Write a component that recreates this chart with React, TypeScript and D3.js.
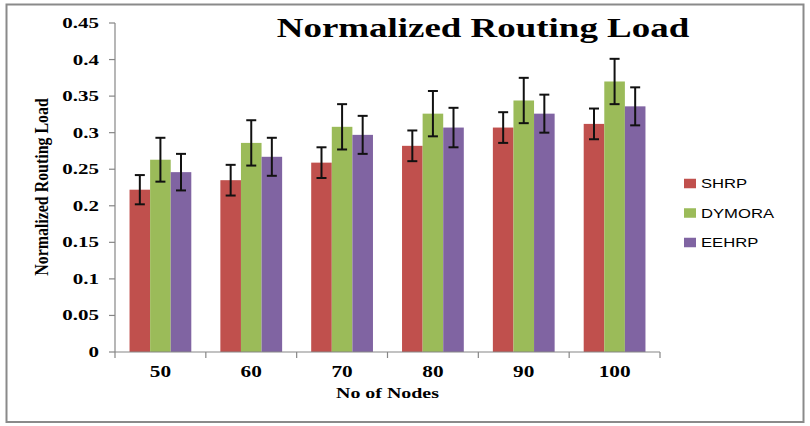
import React from "react";
import * as d3 from "d3";

const categories = ["50", "60", "70", "80", "90", "100"];
const seriesNames = ["SHRP", "DYMORA", "EEHRP"];
const shrp = [0.222, 0.235, 0.259, 0.282, 0.307, 0.312];
const dymora = [0.263, 0.286, 0.308, 0.326, 0.344, 0.37];
const eehrp = [0.246, 0.267, 0.297, 0.307, 0.326, 0.336];
const shrpErr = [0.02, 0.021, 0.021, 0.021, 0.021, 0.021];
const dymoraErr = [0.03, 0.031, 0.031, 0.031, 0.031, 0.031];
const eehrpErr = [0.025, 0.026, 0.026, 0.027, 0.026, 0.026];
const yTicks = [0, 0.05, 0.1, 0.15, 0.2, 0.25, 0.3, 0.35, 0.4, 0.45];
const colors = ["#C0504D", "#9BBB59", "#8064A2"];

const seriesValues = [shrp, dymora, eehrp];
const seriesErrors = [shrpErr, dymoraErr, eehrpErr];

const SERIF = "'Liberation Serif', 'Times New Roman', serif";
const SANS = "'Liberation Sans', Arial, sans-serif";

function SText(props: {
  x: number;
  y: number;
  sx: number;
  sy?: number;
  rotate?: number;
  anchor?: string;
  size: number;
  family: string;
  weight?: string | number;
  children: React.ReactNode;
}) {
  const { x, y, sx, sy = 1, rotate = 0, anchor = "start", size, family, weight = "normal" } = props;
  return (
    <text
      transform={`translate(${x},${y}) rotate(${rotate}) scale(${sx},${sy})`}
      textAnchor={anchor}
      fontSize={size}
      fontFamily={family}
      fontWeight={weight}
      fill="#000"
    >
      {props.children}
    </text>
  );
}

export default function App() {
  const W = 810;
  const H = 426;
  const left = 115;
  const right = 660;
  const top = 23;
  const bottom = 352;

  const x = d3.scaleBand<string>().domain(categories).range([left, right]).paddingInner(0.32).paddingOuter(0.16);
  const xs = d3.scaleBand<string>().domain(seriesNames).range([0, x.bandwidth()]);
  const y = d3.scaleLinear().domain([0, 0.45]).range([bottom, top]);
  const step = x.step();
  const axisColor = "#868686";
  const cap = 5;

  return (
    <svg width={W} height={H} style={{ position: "absolute", left: 0, top: 0, background: "#fff" }}>
      <rect x={0} y={0} width={W} height={H} fill="#fff" />
      <rect x={6.5} y={4.5} width={797} height={417.5} fill="none" stroke="#8a8a8a" strokeWidth={2} />

      {/* Title */}
      <SText x={483} y={37} sx={1.32} anchor="middle" size={28} family={SERIF} weight="bold">
        Normalized Routing Load
      </SText>

      {/* Bars */}
      {seriesNames.map((s, si) =>
        categories.map((c, ci) => {
          const v = seriesValues[si][ci];
          const bx = (x(c) as number) + (xs(s) as number);
          return (
            <rect key={`${s}-${c}`} x={bx} y={y(v)} width={xs.bandwidth()} height={y(0) - y(v)} fill={colors[si]} />
          );
        })
      )}

      {/* Error bars */}
      {seriesNames.map((s, si) =>
        categories.map((c, ci) => {
          const v = seriesValues[si][ci];
          const e = seriesErrors[si][ci];
          const cx = (x(c) as number) + (xs(s) as number) + xs.bandwidth() / 2;
          return (
            <g key={`e-${s}-${c}`} stroke="#111" strokeWidth={2}>
              <line x1={cx} x2={cx} y1={y(v + e)} y2={y(v - e)} />
              <line x1={cx - cap} x2={cx + cap} y1={y(v + e)} y2={y(v + e)} />
              <line x1={cx - cap} x2={cx + cap} y1={y(v - e)} y2={y(v - e)} />
            </g>
          );
        })
      )}

      {/* Y axis */}
      <line x1={left} x2={left} y1={top} y2={bottom} stroke={axisColor} strokeWidth={1.2} />
      {yTicks.map((t) => (
        <g key={`yt-${t}`}>
          <line x1={left - 6} x2={left} y1={y(t)} y2={y(t)} stroke={axisColor} strokeWidth={1.2} />
          <SText x={99} y={y(t) + 5} sx={1.4} anchor="end" size={15} family={SERIF} weight="bold">
            {String(t)}
          </SText>
        </g>
      ))}

      {/* X axis */}
      <line x1={left} x2={right} y1={bottom} y2={bottom} stroke={axisColor} strokeWidth={1.2} />
      {categories.map((c, i) => (
        <line
          key={`xt-${c}`}
          x1={left + i * step}
          x2={left + i * step}
          y1={bottom}
          y2={bottom + 6}
          stroke={axisColor}
          strokeWidth={1.2}
        />
      ))}
      <line x1={right} x2={right} y1={bottom} y2={bottom + 6} stroke={axisColor} strokeWidth={1.2} />
      {categories.map((c) => (
        <SText
          key={`xl-${c}`}
          x={(x(c) as number) + x.bandwidth() / 2}
          y={377}
          sx={1.33}
          anchor="middle"
          size={16}
          family={SERIF}
          weight="bold"
        >
          {c}
        </SText>
      ))}

      {/* Axis titles */}
      <SText x={(left + right) / 2} y={398} sx={1.33} anchor="middle" size={15} family={SERIF} weight="bold">
        No of Nodes
      </SText>
      <SText x={48} y={187} sx={1.06} sy={1.25} rotate={-90} anchor="middle" size={15} family={SERIF} weight="bold">
        Normalized Routing Load
      </SText>

      {/* Legend */}
      {seriesNames.map((s, i) => {
        const cy = 183.5 + i * 29.5;
        return (
          <g key={`lg-${s}`}>
            <rect x={684} y={cy - 4.75} width={12} height={9.5} fill={colors[i]} />
            <SText x={701} y={cy + 4.6} sx={1.28} size={13} family={SANS}>
              {s}
            </SText>
          </g>
        );
      })}
    </svg>
  );
}
